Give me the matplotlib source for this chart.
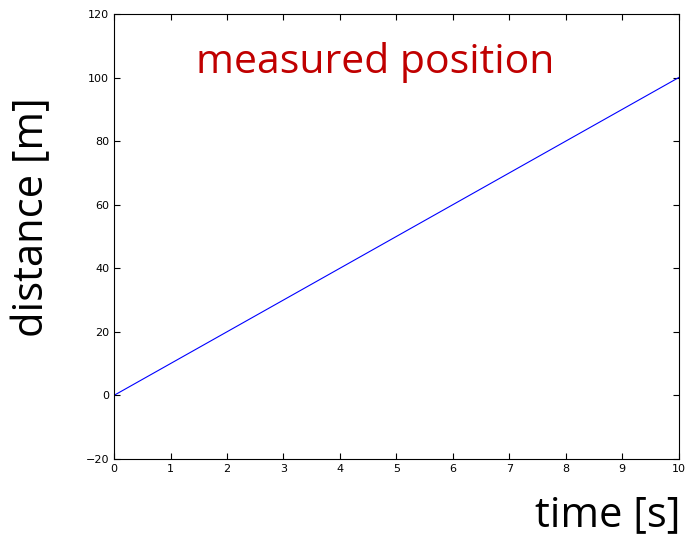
import numpy as np
import matplotlib.pyplot as plt

# measured data (straight line from 0 to 100 m in 10 s)
time_s = [0, 10]
distance_m = [0, 100]

xticks = list(range(0, 11))
yticks = list(range(-20, 121, 20))

fig = plt.figure(figsize=(6.87, 5.38), dpi=100)
ax = fig.add_axes([0.166, 0.147, 0.822, 0.827])

ax.plot(time_s, distance_m, color='blue', linewidth=0.8)
ax.set_xlim(0, 10)
ax.set_ylim(-20, 120)
ax.set_xticks(xticks)
ax.set_yticks(yticks)
ax.tick_params(direction='in', top=True, right=True, labelsize=8, length=4)
for s in ax.spines.values():
    s.set_linewidth(0.8)

big = 'Open Sans'
ax.text(0.462, 0.89, 'measured position', transform=ax.transAxes, ha='center', va='center',
        color='#C00000', fontsize=29.5, family=big)
fig.text(0.047, 0.597, 'distance [m]', rotation=90, ha='center', va='center',
         fontsize=30, family=big)
fig.text(0.99, 0.043, 'time [s]', ha='right', va='center', fontsize=30, family=big)

fig.savefig('out.png', dpi=100)
